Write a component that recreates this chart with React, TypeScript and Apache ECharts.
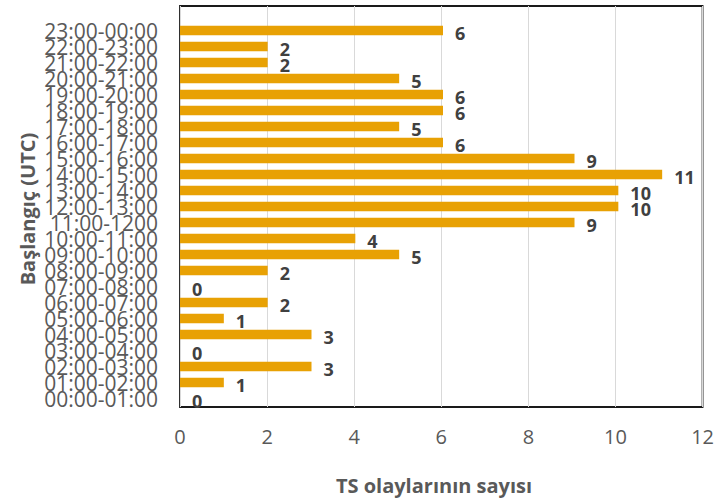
import React, { useEffect, useRef } from "react";
import * as echarts from "echarts";

const categories = [
  "00:00-01:00", "01:00-02:00", "02:00-03:00", "03:00-04:00", "04:00-05:00", "05:00-06:00",
  "06:00-07:00", "07:00-08:00", "08:00-09:00", "09:00-10:00", "10:00-11:00", "11:00-1200",
  "12:00-13:00", "13:00-14:00", "14:00-15:00", "15:00-16:00", "16:00-17:00", "17:00-18:00",
  "18:00-19:00", "19:00-20:00", "20:00-21:00", "21:00-22:00", "22:00-23:00", "23:00-00:00",
];
const counts = [0, 1, 3, 0, 3, 1, 2, 0, 2, 5, 4, 9, 10, 10, 11, 9, 6, 5, 6, 6, 5, 2, 2, 6];
const xTitle = "TS olaylarının sayısı";
const yTitle = "Başlangıç (UTC)";

const gray = "#595959";
const font = "'Open Sans', sans-serif";

export default function App() {
  const ref = useRef<HTMLDivElement>(null);
  useEffect(() => {
    if (!ref.current) return;
    const chart = echarts.init(ref.current, null, { renderer: "svg" });
    chart.setOption({
      animation: false,
      backgroundColor: "#fff",
      grid: [
        { left: 180, right: 11, top: 6, bottom: 91, show: true, borderColor: "#1a1a1a", borderWidth: 1.8, backgroundColor: "transparent" },
        { left: 180, right: 11, top: 22.5, bottom: 91.5 },
      ],
      xAxis: [
        {
          gridIndex: 0, type: "value", min: 0, max: 12, interval: 2,
          axisLine: { show: false }, axisTick: { show: false },
          splitLine: { show: true, lineStyle: { color: "#d9d9d9", width: 1 } },
          axisLabel: { color: gray, fontSize: 20, fontFamily: font, margin: 19 },
        },
        { gridIndex: 1, type: "value", min: 0, max: 12, show: false, splitLine: { show: false } },
      ],
      yAxis: [
        { gridIndex: 0, type: "value", show: false, splitLine: { show: false } },
        {
          gridIndex: 1, type: "category", data: categories,
          axisLine: { show: false }, axisTick: { show: false },
          axisLabel: { color: gray, fontSize: 21, lineHeight: 16, fontFamily: font, margin: 22, interval: 0 },
        },
      ],
      series: [
        {
          type: "bar", xAxisIndex: 1, yAxisIndex: 1, data: counts,
          barWidth: "60%",
          itemStyle: { color: "#E8A104" },
          label: {
            show: true, position: "right", distance: 12, offset: [0, 2],
            color: "#404040", fontSize: 18, lineHeight: 16, fontWeight: "bold", fontFamily: font,
          },
        },
      ],
      graphic: [
        {
          type: "text", x: 434, y: 485,
          style: { text: xTitle, fill: gray, font: `bold 20px ${font}`, textAlign: "center", textVerticalAlign: "middle" },
        },
        {
          type: "text", x: 27, y: 209, rotation: Math.PI / 2,
          style: { text: yTitle, fill: gray, font: `bold 20px ${font}`, textAlign: "center", textVerticalAlign: "middle" },
        },
      ],
    });
    return () => chart.dispose();
  }, []);
  return <div ref={ref} style={{ width: 717, height: 498, position: "absolute", left: 0, top: 0 }} />;
}
